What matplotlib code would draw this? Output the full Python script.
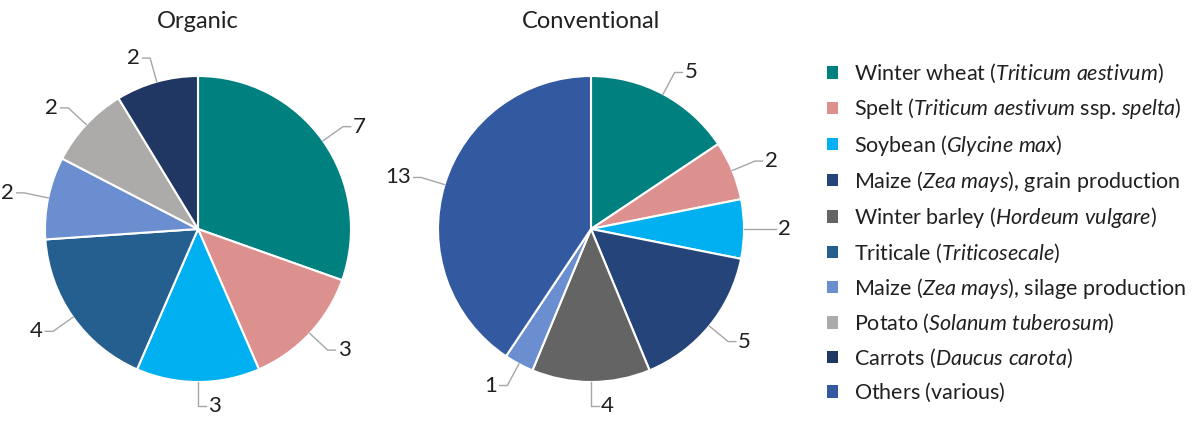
import numpy as np
import matplotlib
matplotlib.use("Agg")
import matplotlib.pyplot as plt
from matplotlib.patches import Patch

plt.rcParams["font.family"] = ["Lato", "DejaVu Sans"]
plt.rcParams["mathtext.fontset"] = "custom"
plt.rcParams["mathtext.rm"] = "Lato"
plt.rcParams["mathtext.it"] = "Lato:italic"

# crop categories and colours (legend order)
crops = [
    r"Winter wheat ($\mathit{Triticum\ aestivum}$)",
    r"Spelt ($\mathit{Triticum\ aestivum}$ ssp. $\mathit{spelta}$)",
    r"Soybean ($\mathit{Glycine\ max}$)",
    r"Maize ($\mathit{Zea\ mays}$), grain production",
    r"Winter barley ($\mathit{Hordeum\ vulgare}$)",
    r"Triticale ($\mathit{Triticosecale}$)",
    r"Maize ($\mathit{Zea\ mays}$), silage production",
    r"Potato ($\mathit{Solanum\ tuberosum}$)",
    r"Carrots ($\mathit{Daucus\ carota}$)",
    r"Others ($\mathrm{various}$)",
]
colors = ["#00807F", "#DD918F", "#00B0F0", "#25447A", "#646464",
          "#245F90", "#6A8ED0", "#ADABAA", "#203764", "#3359A1"]

# slices per system (index into crops)
organic_idx = [0, 1, 2, 5, 6, 7, 8]
organic_vals = [7, 3, 3, 4, 2, 2, 2]
conv_idx = [0, 1, 2, 3, 4, 6, 9]
conv_vals = [5, 2, 2, 5, 4, 1, 13]

W, H = 1198, 428
fig = plt.figure(figsize=(W / 100, H / 100), dpi=100)

R_PX = 153
LIM = 1.5


def draw_pie(cx, cy, vals, idx, title):
    side = 2 * LIM * R_PX
    ax = fig.add_axes([(cx - side / 2) / W, (H - cy - side / 2) / H, side / W, side / H])
    wedges, _ = ax.pie(vals, colors=[colors[i] for i in idx], startangle=90,
                       counterclock=False, radius=1,
                       wedgeprops=dict(edgecolor="white", linewidth=1.5))
    for w, v in zip(wedges, vals):
        ang = np.deg2rad((w.theta1 + w.theta2) / 2)
        c, s = np.cos(ang), np.sin(ang)
        sgn = 1 if c >= -0.01 else -1
        x0, y0 = 1.0 * c, 1.0 * s
        x1, y1 = 1.16 * c, 1.16 * s
        x2 = x1 + 0.05 * sgn
        ax.plot([x0, x1, x2], [y0, y1, y1], color="#A6A6A6", lw=1, clip_on=False)
        ax.text(x2 + 0.015 * sgn, y1, str(v), ha="left" if sgn > 0 else "right",
                va="center", fontsize=16, color="#202020")
    ax.set_xlim(-LIM, LIM)
    ax.set_ylim(-LIM, LIM)
    ax.set_aspect("equal")
    ax.axis("off")
    fig.text(cx / W, 1 - 22 / H, title, ha="center", va="center", fontsize=17,
             color="#202020")


draw_pie(198, 229, organic_vals, organic_idx, "Organic")
draw_pie(591, 229, conv_vals, conv_idx, "Conventional")

handles = [Patch(facecolor=c, edgecolor="none") for c in colors]
fig.legend(handles, crops, loc="upper left", bbox_to_anchor=(827 / W, 1 - 62 / H),
           frameon=False, fontsize=15.5, handlelength=0.5, handleheight=0.5,
           handletextpad=0.75, labelspacing=0.52, borderpad=0, borderaxespad=0,
           labelcolor="#202020")

fig.savefig("out.png", dpi=100)
